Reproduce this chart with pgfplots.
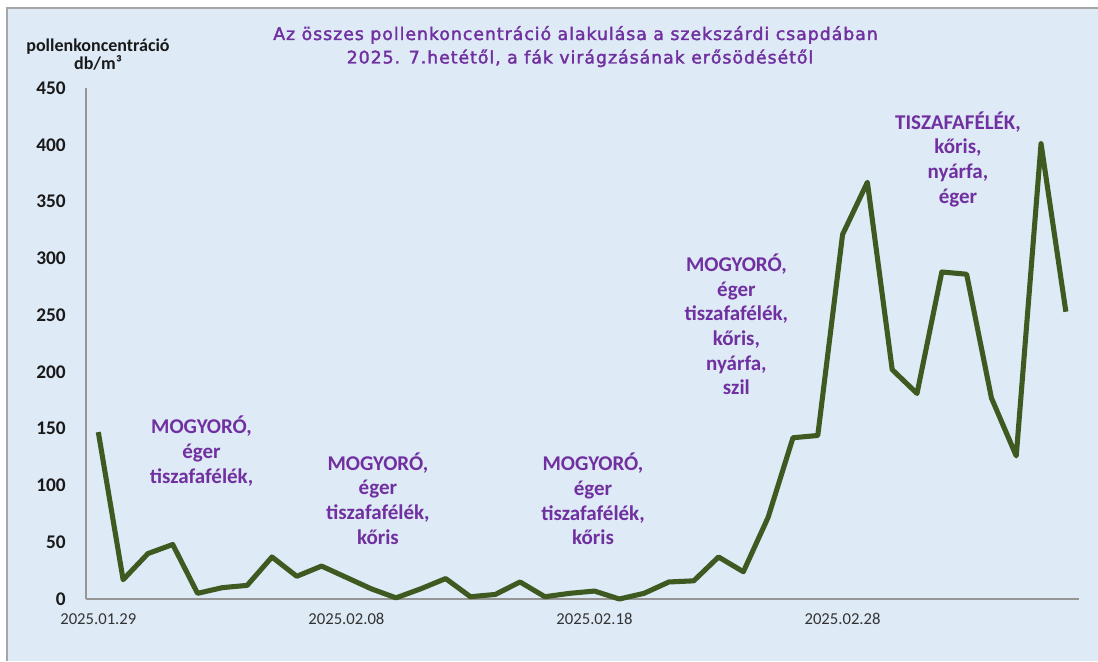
\documentclass[border=0pt]{standalone}
\usepackage{fontspec}
\setmainfont{Carlito}
\newfontfamily\titlefont[LetterSpace=5.5,FakeBold=2]{DejaVu Sans}
\usepackage{pgfplots}
\pgfplotsset{compat=1.18}
\definecolor{panel}{RGB}{222,234,246}
\definecolor{border}{RGB}{165,165,165}
\definecolor{axisgray}{RGB}{150,150,150}
\definecolor{linegreen}{RGB}{62,90,32}
\definecolor{purp}{RGB}{112,48,160}
\tikzset{ann/.style={font=\bfseries\fontsize{15.75}{18.5}\selectfont, text=purp, align=center, anchor=center, inner sep=0pt}}
\begin{document}
\begin{tikzpicture}[x=0.75pt,y=0.75pt]
\path[use as bounding box] (0,0) rectangle (1098,661);
\fill[panel] (7,0) rectangle (1098,653);
\draw[border, line width=1.2pt] (7,0) -- (7,653) -- (1098,653);
\begin{axis}[
  at={(64.5pt,46.5pt)}, anchor=south west,
  scale only axis, width=744.75pt, height=383.25pt,
  xmin=-0.496, xmax=39.53, ymin=0, ymax=450,
  axis x line=bottom, axis y line=left,
  axis line style={-, draw=axisgray, line width=1.2pt},
  major tick length=0pt,
  xtick={0,10,20,30},
  xticklabels={2025.01.29,2025.02.08,2025.02.18,2025.02.28},
  ytick={0,50,...,450},
  /pgf/number format/assume math mode=true,
  xticklabel style={font=\fontsize{12.5}{14}\selectfont, text=black!80, anchor=north, inner sep=0pt, yshift=-10.5pt},
  yticklabel style={font=\bfseries\fontsize{14.5}{16}\selectfont, text=black!90, anchor=east, inner sep=0pt, xshift=-15pt},
  clip=false,
]
\addplot[linegreen, line width=3.8pt, line join=round, mark=none] coordinates {
(0,147) (1,17) (2,40) (3,48) (4,5) (5,10) (6,12) (7,37) (8,20) (9,29)
(10,19) (11,9) (12,1) (13,9) (14,18) (15,2) (16,4) (17,15) (18,2) (19,5)
(20,7) (21,0) (22,5) (23,15) (24,16) (25,37) (26,24) (27,72) (28,142) (29,144)
(30,321) (31,367) (32,202) (33,181) (34,288) (35,286) (36,177) (37,126) (38,401) (39,253)
};
\node[ann] at (axis cs:4.16,130.3) {MOGYORÓ,\\éger\\tiszafafélék,};
\node[ann] at (axis cs:11.27,88.5) {MOGYORÓ,\\éger\\tiszafafélék,\\kőris};
\node[ann] at (axis cs:19.94,88) {MOGYORÓ,\\éger\\tiszafafélék,\\kőris};
\node[ann] at (axis cs:25.72,241.7) {MOGYORÓ,\\éger\\tiszafafélék,\\kőris,\\nyárfa,\\szil};
\node[ann] at (axis cs:34.65,387.4) {TISZAFAFÉLÉK,\\kőris,\\nyárfa,\\éger};
\end{axis}
\node[font=\titlefont\fontsize{13}{15}\selectfont, text=purp, anchor=base, inner sep=0pt] at (575.5,621) {Az összes pollenkoncentráció alakulása a szekszárdi csapdában};
\node[font=\titlefont\fontsize{13}{15}\selectfont, text=purp, anchor=base, inner sep=0pt] at (580,597.5) {2025. 7.hetétől, a fák virágzásának erősödésétől};
\node[font=\bfseries\fontsize{13.5}{16}\selectfont, text=black!90, anchor=base, inner sep=0pt] at (98,609.3) {pollenkoncentráció};
\node[font=\bfseries\fontsize{13.5}{16}\selectfont, text=black!90, anchor=base, inner sep=0pt] at (98,591) {db/m³};
\end{tikzpicture}
\end{document}
